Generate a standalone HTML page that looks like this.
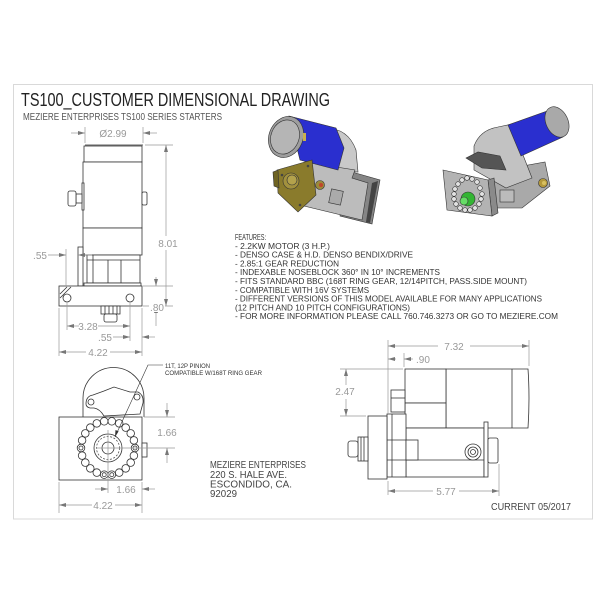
<!DOCTYPE html>
<html><head><meta charset="utf-8"><style>
html,body{margin:0;padding:0;background:#fff;width:600px;height:600px;overflow:hidden}
svg{display:block}
.o{fill:none;stroke:#333;stroke-width:.8}
.w{fill:#fff;stroke:#333;stroke-width:.8}
.d{fill:none;stroke:#999;stroke-width:.7}
.t{font-family:"Liberation Sans",sans-serif;fill:#999;font-size:10px}
.f{font-family:"Liberation Sans",sans-serif;fill:#333;font-size:8.5px}
.k{stroke:#333;stroke-width:.6}
</style></head><body>
<svg width="600" height="600" viewBox="0 0 600 600" xmlns="http://www.w3.org/2000/svg">
<defs>
<marker id="a" markerWidth="7" markerHeight="4" refX="7" refY="2" orient="auto" markerUnits="userSpaceOnUse"><path d="M0,0 L7,2 L0,4 z" fill="#777"/></marker>
</defs>
<rect width="600" height="600" fill="#fff"/>
<rect x="13.5" y="84.5" width="579" height="434.5" fill="none" stroke="#d9d9d9" stroke-width="1"/>

<text x="21" y="106" font-family="Liberation Sans, sans-serif" font-size="18" fill="#222" textLength="309" lengthAdjust="spacingAndGlyphs">TS100_CUSTOMER DIMENSIONAL DRAWING</text>
<text x="23" y="120" font-family="Liberation Sans, sans-serif" font-size="9.8" fill="#555" textLength="199" lengthAdjust="spacingAndGlyphs">MEZIERE ENTERPRISES TS100 SERIES STARTERS</text>

<!-- ===== Left side view ===== -->
<line class="o" x1="85" y1="145" x2="143" y2="145" stroke-width="1.4"/>
<rect class="w" x="84" y="146" width="58" height="16"/>
<rect class="w" x="83" y="162" width="59" height="66"/>
<rect class="w" x="83" y="228" width="59" height="27"/>
<rect class="w" x="87" y="255" width="53" height="28"/>
<line class="o" x1="93" y1="255" x2="93" y2="283"/>
<line class="o" x1="108" y1="260" x2="108" y2="283"/>
<line class="o" x1="121" y1="260" x2="121" y2="283"/>
<line class="o" x1="87" y1="260" x2="140" y2="260"/>
<rect class="w" x="84" y="283" width="57" height="3"/>
<rect class="w" x="78" y="247" width="5" height="39"/>
<rect class="w" x="82" y="183" width="2" height="27"/>
<rect class="w" x="76" y="194" width="6" height="9"/>
<rect class="w" x="68" y="191" width="8" height="15" rx="2"/>
<rect class="w" x="142" y="192" width="5" height="13" rx="1.5"/>
<rect class="w" x="59" y="286" width="83" height="20" stroke-width="1.1"/>
<circle class="o" cx="67" cy="298" r="4"/>
<circle class="o" cx="130" cy="298" r="4"/>
<line class="o" x1="60" y1="294" x2="67" y2="287"/>
<line class="o" x1="60" y1="298" x2="71" y2="287"/>
<rect class="w" x="101" y="306" width="19" height="8"/>
<line class="o" x1="105" y1="306" x2="105" y2="314"/><line class="o" x1="109" y1="306" x2="109" y2="314"/><line class="o" x1="113" y1="306" x2="113" y2="314"/><line class="o" x1="117" y1="306" x2="117" y2="314"/>
<rect class="w" x="104" y="314" width="13" height="8" rx="2"/>

<!-- dims left side view -->
<line class="d" x1="85" y1="127" x2="85" y2="143"/><line class="d" x1="143" y1="127" x2="143" y2="143"/>
<line class="d" x1="71" y1="133" x2="85" y2="133" marker-end="url(#a)"/>
<line class="d" x1="157" y1="133" x2="143" y2="133" marker-end="url(#a)"/>
<text class="t" x="113" y="137" text-anchor="middle">Ø2.99</text>

<line class="d" x1="145" y1="145" x2="173" y2="145"/><line class="d" x1="143" y1="306" x2="173" y2="306"/>
<line class="d" x1="166" y1="236" x2="166" y2="145" marker-end="url(#a)"/>
<line class="d" x1="166" y1="250" x2="166" y2="306" marker-end="url(#a)"/>
<text class="t" x="168" y="247" text-anchor="middle">8.01</text>

<line class="d" x1="143" y1="286" x2="173" y2="286"/>
<line class="d" x1="156" y1="277" x2="156" y2="286" marker-end="url(#a)"/>
<line class="d" x1="156" y1="326" x2="156" y2="306" marker-end="url(#a)"/>
<rect x="149" y="303" width="16" height="9" fill="#fff"/>
<text class="t" x="157" y="311" text-anchor="middle">.80</text>

<line class="d" x1="66" y1="249" x2="66" y2="286"/>
<line class="d" x1="48" y1="255" x2="66" y2="255" marker-end="url(#a)"/>
<line class="d" x1="92" y1="255" x2="78" y2="255" marker-end="url(#a)"/>
<text class="t" x="40" y="259" text-anchor="middle">.55</text>

<line class="d" x1="67" y1="302" x2="67" y2="330"/>
<line class="d" x1="130" y1="302" x2="130" y2="341"/>
<line class="d" x1="59" y1="308" x2="59" y2="356"/>
<line class="d" x1="142" y1="308" x2="142" y2="356"/>
<line class="d" x1="79" y1="326" x2="67" y2="326" marker-end="url(#a)"/>
<line class="d" x1="98" y1="326" x2="130" y2="326" marker-end="url(#a)"/>
<text class="t" x="88" y="330" text-anchor="middle">3.28</text>
<line class="d" x1="113" y1="337" x2="130" y2="337" marker-end="url(#a)"/>
<line class="d" x1="155" y1="337" x2="142" y2="337" marker-end="url(#a)"/>
<text class="t" x="105" y="341" text-anchor="middle">.55</text>
<line class="d" x1="86" y1="352" x2="59" y2="352" marker-end="url(#a)"/>
<line class="d" x1="110" y1="352" x2="142" y2="352" marker-end="url(#a)"/>
<text class="t" x="98" y="356" text-anchor="middle">4.22</text>

<!-- ===== Bottom-left end view ===== -->
<path class="w" d="M83,417 L83,398 A30.5,30.5 0 0 1 144,398 L144,417"/>
<path class="w" d="M86,404 Q86,396 93,395 L104,391 L114,387 L130,392 L138,392 Q144,395 143,403 L140,414 L104,416 Q100,409 94,408 L90,408 Q86,407 86,404 Z"/>
<circle class="o" cx="91" cy="402" r="3"/>
<circle class="o" cx="137" cy="397" r="3"/>
<rect class="w" x="59" y="417" width="83" height="63" stroke-width="1.1"/>
<rect class="w" x="142" y="443" width="5" height="14"/>
<g>
<circle class="w" cx="135" cy="448" r="3.8"/><circle class="w" cx="133.9" cy="455.6" r="3.8"/><circle class="w" cx="130.7" cy="462.6" r="3.8"/><circle class="w" cx="125.7" cy="468.4" r="3.8"/><circle class="w" cx="119.2" cy="472.6" r="3.8"/><circle class="w" cx="111.8" cy="474.7" r="3.8"/><circle class="w" cx="104.2" cy="474.7" r="3.8"/><circle class="w" cx="96.8" cy="472.6" r="3.8"/><circle class="w" cx="90.3" cy="468.4" r="3.8"/><circle class="w" cx="85.3" cy="462.6" r="3.8"/><circle class="w" cx="82.1" cy="455.6" r="3.8"/><circle class="w" cx="81" cy="448" r="3.8"/><circle class="w" cx="82.1" cy="440.4" r="3.8"/><circle class="w" cx="85.3" cy="433.4" r="3.8"/><circle class="w" cx="90.3" cy="427.6" r="3.8"/><circle class="w" cx="96.8" cy="423.4" r="3.8"/><circle class="w" cx="104.2" cy="421.3" r="3.8"/><circle class="w" cx="111.8" cy="421.3" r="3.8"/><circle class="w" cx="119.2" cy="423.4" r="3.8"/><circle class="w" cx="125.7" cy="427.6" r="3.8"/><circle class="w" cx="130.7" cy="433.4" r="3.8"/><circle class="w" cx="133.9" cy="440.4" r="3.8"/>
</g>
<circle class="o" cx="81" cy="448" r="2"/><circle class="o" cx="135" cy="448" r="2"/><circle class="o" cx="104.2" cy="474.7" r="2"/><circle class="o" cx="111.8" cy="474.7" r="2"/>
<circle class="w" cx="108" cy="448" r="14"/>
<circle cx="108" cy="448" r="11.5" fill="none" stroke="#555" stroke-width=".8" stroke-dasharray="2,1.5"/>
<circle class="w" cx="108" cy="448" r="6"/>
<line class="d" x1="108" y1="430" x2="108" y2="493"/>
<line class="d" x1="96" y1="448" x2="175" y2="448"/>
<polyline points="115,437 148,365 163,365" fill="none" stroke="#333" stroke-width=".6"/>
<path d="M115,437 L115.5,430 L118.6,431.4 Z" fill="#333"/>
<text x="165" y="368" font-family="Liberation Sans, sans-serif" font-size="6" fill="#333" textLength="45" lengthAdjust="spacingAndGlyphs">11T, 12P PINION</text>
<text x="165" y="375" font-family="Liberation Sans, sans-serif" font-size="6" fill="#333" textLength="97" lengthAdjust="spacingAndGlyphs">COMPATIBLE W/168T RING GEAR</text>

<line class="d" x1="144" y1="417" x2="175" y2="417"/>
<line class="d" x1="167" y1="403" x2="167" y2="417" marker-end="url(#a)"/>
<line class="d" x1="167" y1="463" x2="167" y2="448" marker-end="url(#a)"/>
<text class="t" x="167" y="436" text-anchor="middle">1.66</text>
<line class="d" x1="59" y1="482" x2="59" y2="513"/><line class="d" x1="142" y1="482" x2="142" y2="513"/>
<line class="d" x1="95" y1="489" x2="108" y2="489" marker-end="url(#a)"/>
<line class="d" x1="155" y1="489" x2="142" y2="489" marker-end="url(#a)"/>
<text class="t" x="126" y="493" text-anchor="middle">1.66</text>
<line class="d" x1="92" y1="505" x2="59" y2="505" marker-end="url(#a)"/>
<line class="d" x1="115" y1="505" x2="142" y2="505" marker-end="url(#a)"/>
<text class="t" x="103" y="509" text-anchor="middle">4.22</text>

<g font-family="Liberation Sans, sans-serif" font-size="10" fill="#444">
<text x="210" y="468" textLength="96" lengthAdjust="spacingAndGlyphs">MEZIERE ENTERPRISES</text>
<text x="210" y="478" textLength="77" lengthAdjust="spacingAndGlyphs">220 S. HALE AVE.</text>
<text x="210" y="487.5" textLength="82" lengthAdjust="spacingAndGlyphs">ESCONDIDO, CA.</text>
<text x="210" y="497" textLength="27" lengthAdjust="spacingAndGlyphs">92029</text>
<text x="491" y="510" textLength="80" lengthAdjust="spacingAndGlyphs">CURRENT 05/2017</text>
</g>

<!-- ===== Bottom-right side view ===== -->
<path class="w" d="M446,369 L528,369 Q530,398 528,428 L446,428 Z"/>
<line class="o" x1="512" y1="369" x2="512" y2="428"/>
<rect class="w" x="405" y="369" width="41" height="34"/>
<rect class="w" x="405" y="403" width="41" height="25"/>
<rect class="w" x="406" y="428" width="78" height="49"/>
<line class="o" x1="406" y1="460" x2="484" y2="460"/>
<rect class="w" x="484" y="422" width="4" height="55"/>
<rect class="w" x="488" y="438" width="10" height="25" rx="2"/>
<circle class="w" cx="473" cy="452" r="8"/><circle class="o" cx="473" cy="452" r="5"/><circle class="o" cx="473" cy="452" r="2.5"/>
<rect class="w" x="391" y="390" width="14" height="22"/>
<line class="o" x1="391" y1="398" x2="405" y2="398"/>
<rect class="w" x="387" y="414" width="19" height="63"/>
<line class="o" x1="392" y1="414" x2="392" y2="477"/>
<line class="o" x1="387" y1="440" x2="406" y2="440"/>
<line class="o" x1="387" y1="460" x2="406" y2="460"/>
<rect class="w" x="406" y="440" width="12" height="20"/>
<rect class="w" x="368" y="416" width="19" height="63" stroke-width="1.1"/>
<rect class="w" x="358" y="437" width="10" height="24"/>
<line class="o" x1="361" y1="437" x2="361" y2="461"/><line class="o" x1="364" y1="437" x2="364" y2="461"/>
<rect class="w" x="348" y="441" width="10" height="16" rx="2.5"/>

<line class="d" x1="388" y1="340" x2="388" y2="414"/><line class="d" x1="529" y1="340" x2="529" y2="366"/>
<line class="d" x1="438" y1="346" x2="388" y2="346" marker-end="url(#a)"/>
<line class="d" x1="470" y1="346" x2="529" y2="346" marker-end="url(#a)"/>
<text class="t" x="454" y="350" text-anchor="middle">7.32</text>
<line class="d" x1="404" y1="353" x2="404" y2="367"/>
<line class="d" x1="396" y1="359" x2="388" y2="359" marker-end="url(#a)"/>
<line class="d" x1="413" y1="359" x2="404" y2="359" marker-end="url(#a)"/>
<text class="t" x="416" y="363">.90</text>
<line class="d" x1="340" y1="369" x2="403" y2="369"/><line class="d" x1="340" y1="416" x2="366" y2="416"/>
<line class="d" x1="346" y1="385" x2="346" y2="369" marker-end="url(#a)"/>
<line class="d" x1="346" y1="399" x2="346" y2="416" marker-end="url(#a)"/>
<text class="t" x="345" y="395" text-anchor="middle">2.47</text>
<line class="d" x1="388" y1="481" x2="388" y2="495"/><line class="d" x1="499" y1="464" x2="499" y2="496"/>
<line class="d" x1="433" y1="491" x2="388" y2="491" marker-end="url(#a)"/>
<line class="d" x1="459" y1="491" x2="499" y2="491" marker-end="url(#a)"/>
<text class="t" x="446" y="495" text-anchor="middle">5.77</text>

<!-- ===== Features ===== -->
<g class="f">
<text x="235" y="240" textLength="31" lengthAdjust="spacingAndGlyphs">FEATURES:</text>
<text x="235" y="248.8" textLength="95" lengthAdjust="spacingAndGlyphs">- 2.2KW MOTOR (3 H.P.)</text>
<text x="235" y="257.6" textLength="178" lengthAdjust="spacingAndGlyphs">- DENSO CASE &amp; H.D. DENSO BENDIX/DRIVE</text>
<text x="235" y="266.4" textLength="104" lengthAdjust="spacingAndGlyphs">- 2.85:1 GEAR REDUCTION</text>
<text x="235" y="275.2" textLength="205" lengthAdjust="spacingAndGlyphs">- INDEXABLE NOSEBLOCK 360°  IN 10° INCREMENTS</text>
<text x="235" y="284" textLength="292" lengthAdjust="spacingAndGlyphs">- FITS STANDARD BBC (168T RING GEAR, 12/14PITCH, PASS.SIDE MOUNT)</text>
<text x="235" y="292.8" textLength="134" lengthAdjust="spacingAndGlyphs">- COMPATIBLE WITH 16V SYSTEMS</text>
<text x="235" y="301.6" textLength="307" lengthAdjust="spacingAndGlyphs">- DIFFERENT VERSIONS OF THIS MODEL AVAILABLE FOR MANY APPLICATIONS</text>
<text x="235" y="310.4" textLength="175" lengthAdjust="spacingAndGlyphs">(12 PITCH AND 10 PITCH CONFIGURATIONS)</text>
<text x="235" y="319.2" textLength="323" lengthAdjust="spacingAndGlyphs">- FOR MORE INFORMATION PLEASE CALL 760.746.3273 OR GO TO MEZIERE.COM</text>
</g>

<!-- ===== 3D render left ===== -->
<polygon points="345,170 380,180 372,224 340,216" fill="#858585" class="k"/>
<polygon points="372,183 378,181 370,223 366,222" fill="#444"/>
<path d="M325,128 Q348,128 356,150 L358,172 L330,170 Z" fill="#c9c9c9" class="k"/>
<polygon points="305,162 355,170 352,178 368,183 362,220 300,205 298,180" fill="#bcbcbc" class="k"/>
<rect x="330" y="190" width="12" height="14" fill="#aaa" class="k" transform="rotate(12 336 197)"/>
<polygon points="289,116 336,128 344,148 338,170 300,160" fill="#2a2fcf" class="k"/>
<ellipse cx="286" cy="137" rx="17" ry="21" transform="rotate(22 286 137)" fill="#9e9e9e" class="k"/>
<ellipse cx="285" cy="137" rx="14" ry="17.5" transform="rotate(22 285 137)" fill="#b5b5b5" class="k"/>
<rect x="303" y="133" width="3" height="8" fill="#c8b050"/>
<polygon points="277,170 312,160 316,195 298,212 278,193" fill="#8a7b2c" class="k"/>
<polygon points="273,172 278,170 279,188 274,186" fill="#6f6423" class="k"/>
<circle cx="291" cy="181" r="8" fill="#a2913e" class="k"/>
<circle cx="292" cy="180" r="5" fill="#b3a24c" class="k"/>
<circle cx="282" cy="175" r="1.3" fill="#444"/><circle cx="308" cy="166" r="1.3" fill="#444"/><circle cx="300" cy="205" r="1.3" fill="#444"/>
<circle cx="320" cy="185" r="4.5" fill="#9b8a3a" class="k"/>
<circle cx="321" cy="185" r="2" fill="#c0452a"/>

<!-- ===== 3D render right ===== -->
<polygon points="490,172 545,162 550,186 522,208 494,208" fill="#a9a9a9" class="k"/>
<rect x="500" y="190" width="14" height="12" fill="#bbb" class="k"/>
<path d="M474,170 L474,146 Q480,130 498,127 L512,124 L523,155 L532,178 L506,188 Z" fill="#c2c2c2" class="k"/>
<polygon points="508,125 550,110 563,137 521,156" fill="#2a2fcf" class="k"/>
<ellipse cx="557" cy="122" rx="11" ry="16" transform="rotate(-25 557 122)" fill="#a9a9a9" class="k"/>
<polygon points="466,158 478,152 500,156 506,170 482,168" fill="#555" class="k"/>
<polygon points="488,180 494,178 498,213 492,216" fill="#8a8a8a" class="k"/>
<polygon points="443,170 488,180 492,216 447,210" fill="#b3b3b3" class="k"/>
<g fill="#e2e2e2" class="k">
<circle cx="482" cy="194" r="2.3"/><circle cx="481" cy="199" r="2.3"/><circle cx="479" cy="204" r="2.3"/><circle cx="475" cy="208" r="2.3"/><circle cx="470" cy="210" r="2.3"/><circle cx="465" cy="210" r="2.3"/><circle cx="460" cy="208" r="2.3"/><circle cx="456" cy="204" r="2.3"/><circle cx="454" cy="199" r="2.3"/><circle cx="454" cy="194" r="2.3"/><circle cx="455" cy="189" r="2.3"/><circle cx="458" cy="184" r="2.3"/><circle cx="462" cy="180" r="2.3"/><circle cx="467" cy="178" r="2.3"/><circle cx="472" cy="179" r="2.3"/><circle cx="477" cy="182" r="2.3"/><circle cx="480" cy="188" r="2.3"/>
</g>
<circle cx="468" cy="199" r="7" fill="#33b533" class="k"/>
<circle cx="464" cy="201" r="4" fill="#66dd66" class="k"/>
<circle cx="543" cy="183" r="4.5" fill="#b4983a" class="k"/>
<circle cx="544" cy="183" r="2" fill="#d8c060"/>
</svg>
</body></html>
